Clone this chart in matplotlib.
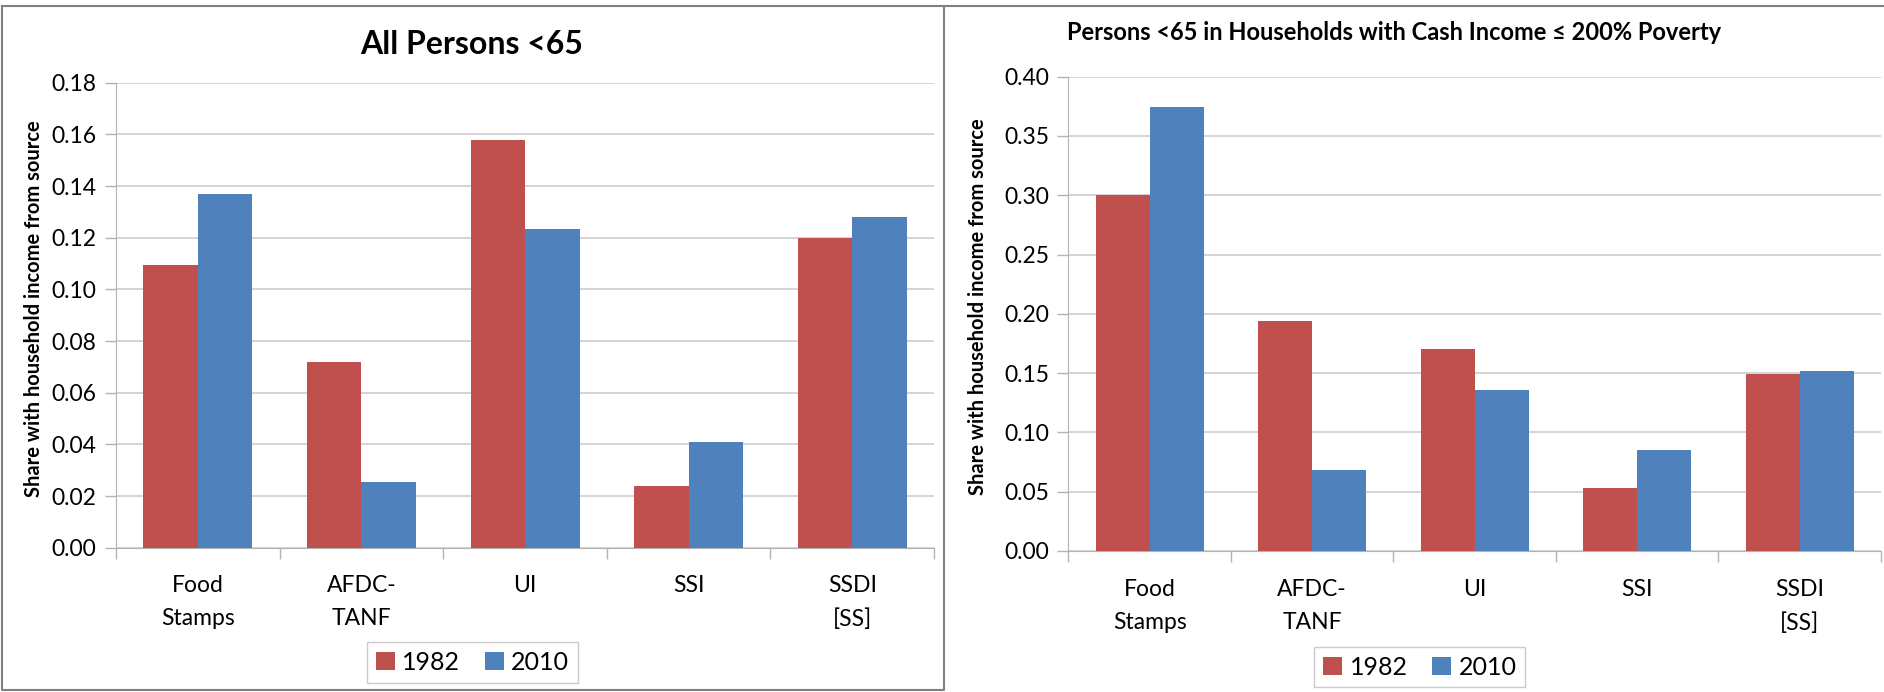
import numpy as np
import matplotlib
matplotlib.use('Agg')
import matplotlib.pyplot as plt
from matplotlib.lines import Line2D

plt.rcParams['font.family'] = ['Lato', 'DejaVu Sans']

categories = ['Food\nStamps', 'AFDC-\nTANF', 'UI', 'SSI', 'SSDI\n[SS]']
years = ['1982', '2010']

all_1982 = [0.1094, 0.0720, 0.1578, 0.0237, 0.1197]
all_2010 = [0.1370, 0.0254, 0.1232, 0.0408, 0.1281]

poor_1982 = [0.3002, 0.1939, 0.1706, 0.0534, 0.1490]
poor_2010 = [0.3741, 0.0680, 0.1355, 0.0849, 0.1521]

red = '#C0504D'
blue = '#4F81BD'
grid_col = '#D4D4D4'
axis_col = '#B3B3B3'
frame_col = '#808080'

fig = plt.figure(figsize=(18.84, 6.92), dpi=100)

# panel frames
fig.add_artist(Line2D([0.0008, 0.0008, 0.501, 0.501, 0.0008],
                      [0.9913, 0.003, 0.003, 0.9913, 0.9913],
                      transform=fig.transFigure, color=frame_col, lw=1.5))
fig.add_artist(Line2D([0.501, 1.0], [0.9913, 0.9913],
                      transform=fig.transFigure, color=frame_col, lw=1.5))


def draw_panel(rect, v1982, v2010, ymax, step, title, title_pos, title_size,
               ylabel_x, legend_pos):
    ax = fig.add_axes(rect)
    x = np.arange(len(categories))
    w = 1 / 3
    b1 = ax.bar(x - w / 2, v1982, w, color=red, label=years[0], zorder=3)
    b2 = ax.bar(x + w / 2, v2010, w, color=blue, label=years[1], zorder=3)

    ax.set_xlim(-0.5, len(categories) - 0.5)
    ax.set_ylim(0, ymax)
    ax.set_yticks(np.arange(0, ymax + step / 2, step))
    ax.yaxis.set_major_formatter(plt.FormatStrFormatter('%.2f'))
    ax.grid(axis='y', color=grid_col, lw=1.4, zorder=0)
    ax.set_axisbelow(True)

    ax.set_xticks(x)
    ax.set_xticklabels(categories, fontsize=16.5, linespacing=1.7)
    ax.set_xticks(np.arange(-0.5, len(categories)), minor=True)
    ax.tick_params(axis='x', which='major', length=0, pad=20)
    ax.tick_params(axis='x', which='minor', length=8, color=axis_col, width=1)
    ax.tick_params(axis='y', length=8, color=axis_col, width=1,
                   labelsize=16.5, pad=6)

    for s in ['top', 'right']:
        ax.spines[s].set_visible(False)
    ax.spines['left'].set_color(axis_col)
    ax.spines['bottom'].set_color(axis_col)

    fig.text(title_pos[0], title_pos[1], title, ha='center', va='center',
             fontsize=title_size, fontweight='bold')
    fig.text(ylabel_x, rect[1] + rect[3] * 0.5 + 0.01,
             'Share with household income from source',
             rotation=90, ha='center', va='center', fontsize=14.5,
             fontweight='bold')

    fig.legend(handles=[b1, b2], loc='center', bbox_to_anchor=legend_pos,
               bbox_transform=fig.transFigure, ncol=2, fontsize=18,
               frameon=True, fancybox=False, edgecolor='#BFBFBF',
               handlelength=0.75, handleheight=0.75, handletextpad=0.3,
               columnspacing=1.0, borderpad=0.35)
    return ax


draw_panel([0.0616, 0.2085, 0.4342, 0.672], all_1982, all_2010, 0.18, 0.02,
           'All Persons <65', (0.2505, 0.936), 23, 0.018, (0.2508, 0.0426))

draw_panel([0.5671, 0.2038, 0.4313, 0.6854], poor_1982, poor_2010, 0.40, 0.05,
           'Persons <65 in Households with Cash Income \u2264 200% Poverty',
           (0.740, 0.953), 17, 0.519, (0.7537, 0.0361))

fig.savefig('out.png', dpi=100)
